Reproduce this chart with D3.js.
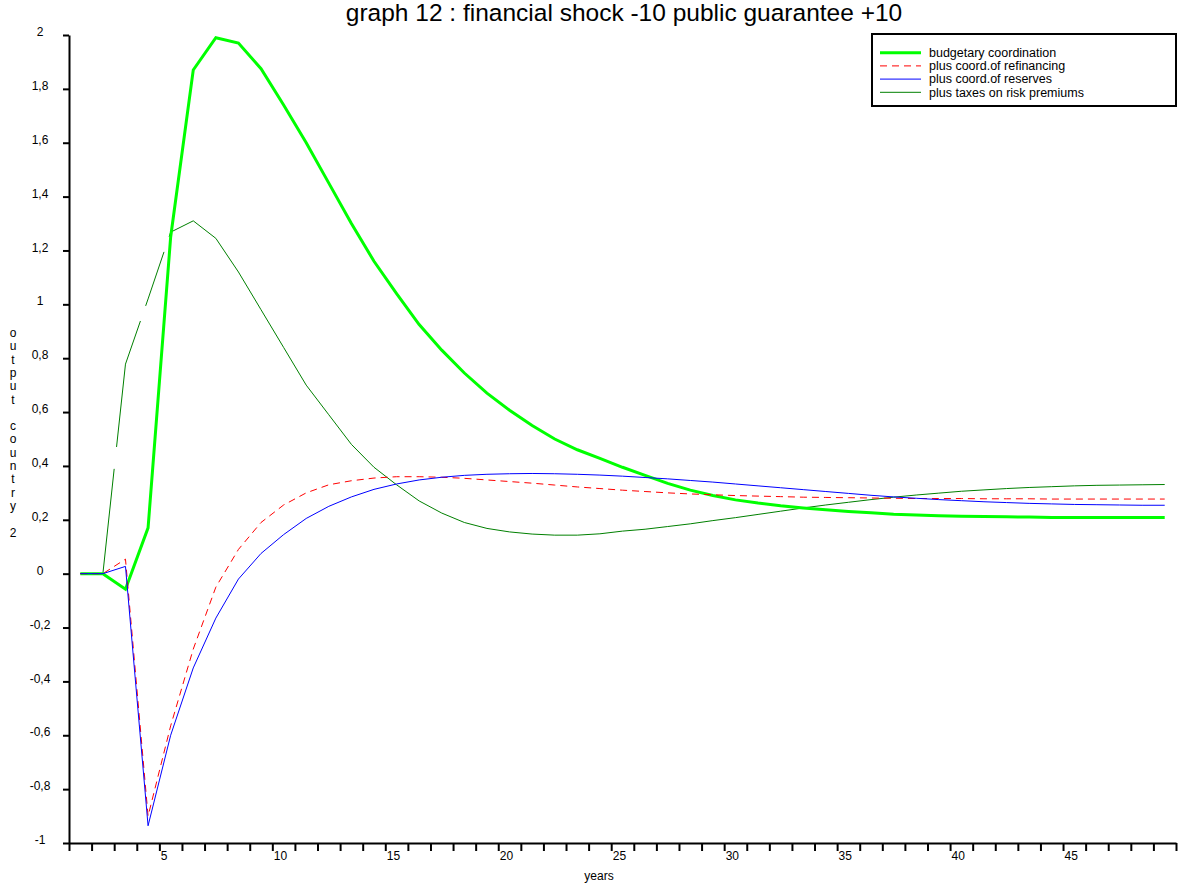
<!DOCTYPE html>
<html lang="en">
<head>
<meta charset="UTF-8">
<title>graph 12 : financial shock -10 public guarantee +10</title>
<script src="https://cdn.jsdelivr.net/npm/d3@7"></script>
<style>
    body {
        margin: 0;
        background: #ffffff;
        font-family: "Liberation Sans", Arial, sans-serif;
    }
    .axis path, .axis line {
        stroke: #000;
        stroke-width: 2px;
    }
    .axis text {
        font-family: "Liberation Sans", Arial, sans-serif;
        font-size: 12px;
        fill: #000;
    }
    .series {
        fill: none;
        stroke-linejoin: miter;
    }
</style>
</head>
<body>
<svg id="chart"></svg>
<script>
    // periods 1..49 (one value per year)
    const years = d3.range(1, 50);

    const budgetary = [0, 0, -0.058, 0.17, 1.25, 1.87, 1.99, 1.97, 1.875, 1.74,
        1.60, 1.45, 1.30, 1.16, 1.04, 0.925, 0.83, 0.745, 0.67, 0.607,
        0.55, 0.50, 0.46, 0.428, 0.395, 0.365, 0.335, 0.31, 0.29, 0.274,
        0.262, 0.252, 0.244, 0.237, 0.231, 0.226, 0.221, 0.218, 0.215, 0.213,
        0.212, 0.211, 0.21, 0.209, 0.209, 0.209, 0.209, 0.209, 0.209];

    const refinancing = [0, 0, 0.054, -0.90, -0.565, -0.28, -0.05, 0.09, 0.19, 0.255,
        0.30, 0.33, 0.345, 0.355, 0.36, 0.36, 0.358, 0.354, 0.348, 0.342,
        0.336, 0.329, 0.322, 0.316, 0.31, 0.305, 0.30, 0.296, 0.293, 0.29,
        0.288, 0.286, 0.284, 0.283, 0.282, 0.281, 0.28, 0.279, 0.279, 0.279,
        0.278, 0.278, 0.278, 0.277, 0.277, 0.277, 0.277, 0.277, 0.277];

    const reserves = [0, 0, 0.027, -0.936, -0.60, -0.35, -0.165, -0.02, 0.075, 0.145,
        0.205, 0.25, 0.285, 0.313, 0.333, 0.348, 0.358, 0.365, 0.369, 0.371,
        0.372, 0.371, 0.369, 0.366, 0.362, 0.357, 0.352, 0.346, 0.34, 0.333,
        0.326, 0.319, 0.312, 0.305, 0.298, 0.291, 0.285, 0.28, 0.275, 0.271,
        0.267, 0.264, 0.261, 0.259, 0.257, 0.256, 0.255, 0.254, 0.254];

    const riskTaxes = [0, 0, 0.778, 1.02, 1.268, 1.31, 1.245, 1.12, 0.98, 0.84,
        0.70, 0.59, 0.48, 0.395, 0.33, 0.27, 0.225, 0.19, 0.168, 0.155,
        0.147, 0.143, 0.143, 0.148, 0.158, 0.165, 0.175, 0.185, 0.197, 0.208,
        0.22, 0.232, 0.244, 0.255, 0.265, 0.275, 0.284, 0.292, 0.299, 0.306,
        0.311, 0.316, 0.32, 0.323, 0.326, 0.328, 0.329, 0.33, 0.331];

    const seriesNames = ["budgetary coordination", "plus coord.of refinancing",
        "plus coord.of reserves", "plus taxes on risk premiums"];

    const yTicks = d3.range(-1, 2.0001, 0.2);
    const xTicks = d3.range(1, 51);

    const width = 1179, height = 884;

    const svg = d3.select("#chart")
        .attr("width", width)
        .attr("height", height);

    const x = d3.scaleLinear().domain([1, 50]).range([69, 1176]);
    const y = d3.scaleLinear().domain([-1, 2]).range([843, 35]);

    // the taxes line shows a few breaks on its steep rise in the original
    const series = [
        {name: seriesNames[3], values: riskTaxes, color: "#008000", width: 1, dash: "128,22,129,16,57,16,5000"},
        {name: seriesNames[0], values: budgetary, color: "#00ff00", width: 3, dash: null},
        {name: seriesNames[1], values: refinancing, color: "#ff0000", width: 1, dash: "7,5"},
        {name: seriesNames[2], values: reserves, color: "#0000ff", width: 1, dash: null}
    ];

    // title
    svg.append("text")
        .attr("x", 624)
        .attr("y", 21)
        .attr("text-anchor", "middle")
        .style("font-size", "24.5px")
        .text("graph 12 : financial shock -10 public guarantee +10");

    // y axis
    const yAxis = svg.append("g")
        .attr("class", "axis")
        .attr("transform", `translate(${x(1)},0)`)
        .call(d3.axisLeft(y)
            .tickValues(yTicks)
            .tickSize(6)
            .tickSizeOuter(0)
            .tickFormat(d => String(Math.round(d * 10) / 10).replace(".", ",")));
    yAxis.selectAll("text")
        .attr("text-anchor", "middle")
        .attr("x", -29)
        .attr("dy", "0.05em");

    // x axis
    const xAxis = svg.append("g")
        .attr("class", "axis")
        .attr("transform", `translate(0,${y(-1)})`)
        .call(d3.axisBottom(x)
            .tickValues(xTicks)
            .tickSize(8)
            .tickSizeOuter(0)
            .tickPadding(0)
            .tickFormat(d => (d % 5 === 0 && d < 50) ? d : ""));
    xAxis.selectAll("text")
        .attr("text-anchor", "start")
        .attr("x", 1);

    // axis titles
    svg.append("text")
        .attr("x", 599)
        .attr("y", 880)
        .attr("text-anchor", "middle")
        .style("font-size", "12px")
        .text("years");

    const yLabel = svg.append("text")
        .attr("text-anchor", "middle")
        .style("font-size", "12px");
    "output country 2".split("").forEach((ch, i) => {
        yLabel.append("tspan")
            .attr("x", 13)
            .attr("y", 337 + i * 13.3)
            .text(ch === " " ? "\u00a0" : ch);
    });

    // lines
    const line = d3.line()
        .x((d, i) => x(years[i] + 0.5))
        .y(d => y(d));

    series.forEach(s => {
        svg.append("path")
            .attr("class", "series")
            .attr("d", line(s.values))
            .attr("stroke", s.color)
            .attr("stroke-width", s.width)
            .attr("stroke-dasharray", s.dash);
    });

    // legend
    const legend = svg.append("g");
    legend.append("rect")
        .attr("x", 872)
        .attr("y", 34)
        .attr("width", 304)
        .attr("height", 72)
        .attr("fill", "#fff")
        .attr("stroke", "#000")
        .attr("stroke-width", 2);

    const legendOrder = [series[1], series[2], series[3], series[0]];
    legendOrder.forEach((s, i) => {
        const ly = 52.7 + i * 13.2;
        legend.append("line")
            .attr("x1", 880).attr("x2", 921)
            .attr("y1", ly).attr("y2", ly)
            .attr("stroke", s.color)
            .attr("stroke-width", s.width)
            .attr("stroke-dasharray", s === series[0] ? null : s.dash);
        legend.append("text")
            .attr("x", 929)
            .attr("y", ly)
            .attr("dy", "0.35em")
            .style("font-size", "12.5px")
            .text(s.name);
    });
</script>
</body>
</html>
